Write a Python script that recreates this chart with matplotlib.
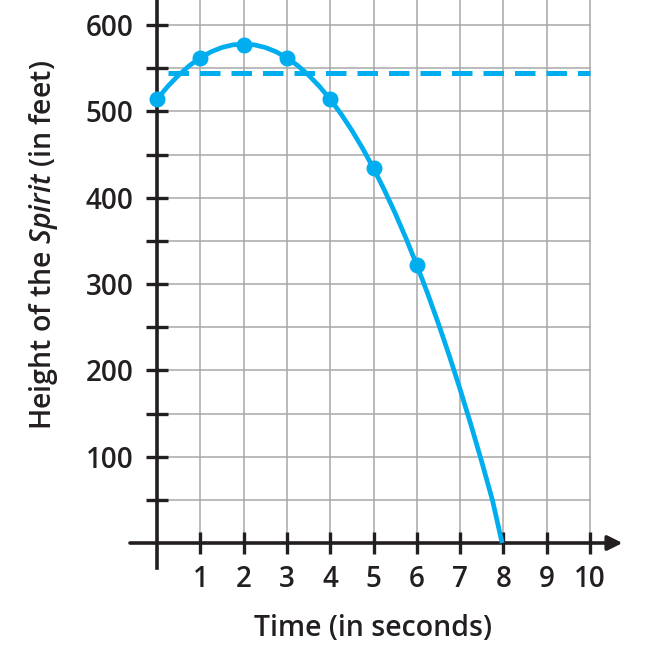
import numpy as np
import matplotlib
matplotlib.use("Agg")
import matplotlib.pyplot as plt

# curve values
curve_t = [0, 0.25, 0.5, 0.75, 1, 1.25, 1.5, 1.75, 2, 2.25, 2.5, 2.75, 3, 3.25,
           3.5, 3.75, 4, 4.25, 4.5, 4.75, 5, 5.25, 5.5, 5.75, 6, 6.25, 6.5,
           6.75, 7, 7.25, 7.5, 7.75, 7.97]
curve_h = [514, 529, 542, 553, 562, 569, 574, 577, 578, 577, 574, 569, 562, 553,
           542, 529, 514, 497, 478, 457, 434, 409, 382, 353, 322, 289, 254,
           217, 178, 137, 94, 49, 0]

point_t = [0, 1, 2, 3, 4, 5, 6]
point_h = [514, 562, 577, 562, 514, 434, 322]

dash_level = 544
dash_start = 0.25

x_ticks = [1, 2, 3, 4, 5, 6, 7, 8, 9, 10]
y_ticks = [100, 200, 300, 400, 500, 600]
y_minor = [50, 150, 250, 350, 450, 550]

blue = "#00aeef"
ink = "#231f20"
gridc = "#a8a8a8"

plt.rcParams["font.family"] = ["Open Sans", "DejaVu Sans"]
plt.rcParams["font.weight"] = "semibold"
plt.rcParams["mathtext.fontset"] = "custom"
plt.rcParams["mathtext.rm"] = "Open Sans:semibold"
plt.rcParams["mathtext.it"] = "Open Sans:italic:semibold"

fig = plt.figure(figsize=(6.5, 6.56), dpi=100)
W, H = 650, 656
# axes box in pixels: left 130, right 630, top 0, bottom 568
ax = fig.add_axes([130 / W, 1 - 568 / H, 500 / W, 568 / H])
xlo, xhi = -27 / 43.3, (630 - 157) / 43.3
ylo, yhi = -25 / 0.8633, 543 / 0.8633
ax.set_xlim(xlo, xhi)
ax.set_ylim(ylo, yhi)

# grid
for gx in range(0, 11):
    ax.plot([gx, gx], [0, yhi], color=gridc, lw=1.1, zorder=1)
for gy in range(50, 650, 50):
    if gy < yhi:
        ax.plot([0, 10], [gy, gy], color=gridc, lw=1.1, zorder=1)

# axes
for s in ["top", "right"]:
    ax.spines[s].set_visible(False)
ax.spines["left"].set_position(("data", 0))
ax.spines["bottom"].set_position(("data", 0))
ax.spines["bottom"].set_visible(False)
ax.spines["left"].set_linewidth(2.6)
ax.spines["left"].set_color(ink)
ax.annotate("", xy=(10.75, 0), xytext=(xlo, 0),
            arrowprops=dict(arrowstyle="-|>", lw=2.6, color=ink,
                            mutation_scale=22, shrinkA=0, shrinkB=0), zorder=3)

ax.set_xticks(x_ticks)
ax.set_yticks(y_ticks)
ax.set_yticks(y_minor, minor=True)
ax.tick_params(axis="both", which="both", direction="inout", length=16,
               width=2.4, color=ink, labelsize=20, labelcolor=ink)
ax.tick_params(axis="x", pad=8)
ax.tick_params(axis="y", pad=9)

# data
ax.plot(curve_t, curve_h, color=blue, lw=3.4, zorder=4, solid_capstyle="butt")
ax.plot(point_t, point_h, "o", color=blue, ms=10.5, zorder=5)
ax.plot([dash_start, 10], [dash_level, dash_level], color=blue, lw=3.6,
        linestyle=(0, (4.1, 2.2)), zorder=4)

ax.text(5, -99, "Time (in seconds)", ha="center", va="center", fontsize=20.5,
        color=ink)
fig.text(44 / W, 1 - 245 / H, r"Height of the $\mathit{Spirit}$ (in feet)",
         rotation=90, ha="center", va="center", fontsize=20.5, color=ink)

fig.savefig("out.png", dpi=100)
